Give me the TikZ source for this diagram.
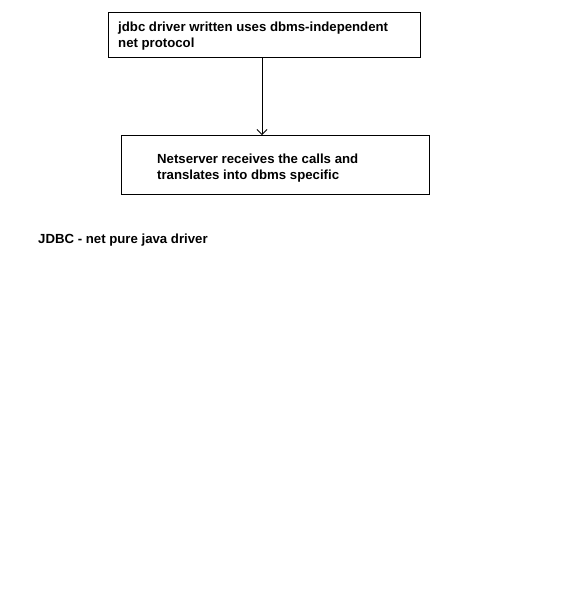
\documentclass[tikz,border=0pt]{standalone}
\usepackage{fontspec}
\setmainfont{Liberation Sans}
\usetikzlibrary{arrows.meta}
\begin{document}
\begin{tikzpicture}[x=1pt,y=-1pt,
  box/.style={draw=black,line width=1pt,rectangle,inner sep=0pt,anchor=north west},
  txt/.style={anchor=base west,inner sep=0pt,font=\fontsize{13.2}{16}\selectfont\bfseries,align=left},
  conn/.style={draw=black,line width=0.8pt,-{Straight Barb[length=5pt,width=10pt,line width=0.8pt]}}]
\useasboundingbox[fill=white] (0,0) rectangle (570,600);
\node[box,minimum width=312pt,minimum height=45pt] (top) at (108,12) {};
\node[box,minimum width=308pt,minimum height=59pt] (net) at (121,135) {};
\node[txt] (t1) at (118,47) {jdbc driver written uses dbms-independent\\net protocol};
\node[txt] (t2) at (157,179) {Netserver receives the calls and\\translates into dbms specific};
\node[txt] (lbl) at (38,243) {JDBC - net pure java driver};
\draw[conn] (top.south -| 262,0) -- (net.north -| 262,0);
\end{tikzpicture}
\end{document}
